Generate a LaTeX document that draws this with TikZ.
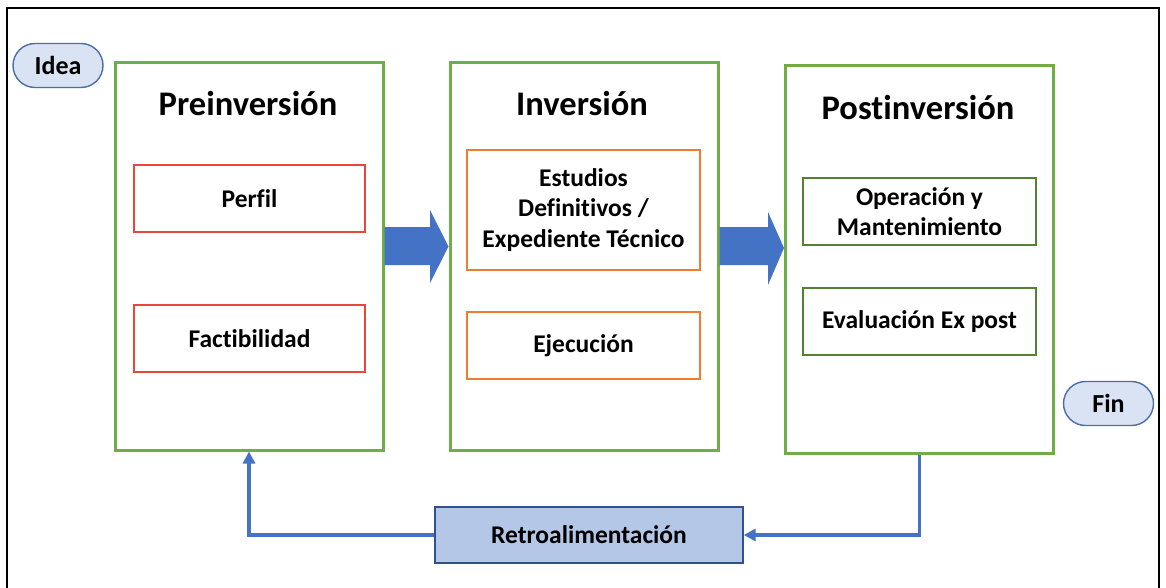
\documentclass[tikz,border=0pt]{standalone}
\usepackage{fontspec}
\setmainfont{Carlito}[Ligatures=NoCommon]
\usepackage{tikz}
\usetikzlibrary{positioning,arrows.meta}
\usepackage{xcolor}
\definecolor{stagegreen}{HTML}{70AD47}
\definecolor{boxred}{HTML}{E8473A}
\definecolor{boxorange}{HTML}{ED7D31}
\definecolor{boxgreen}{HTML}{548235}
\definecolor{flowblue}{HTML}{4472C4}
\definecolor{pillfill}{HTML}{DAE3F3}
\definecolor{pillline}{HTML}{4A6FA5}
\definecolor{retrofill}{HTML}{B4C7E7}
\definecolor{retroline}{HTML}{2F528F}
\tikzset{
	stage/.style={draw=stagegreen, line width=3pt, minimum width=268pt, minimum height=387pt},
	stagetitle/.style={font=\bfseries\fontsize{34.5}{41}\selectfont},
	task/.style={line width=2.8pt, minimum width=231pt, minimum height=67pt, align=center, font=\bfseries\fontsize{25.5}{30.5}\selectfont},
	pill/.style={draw=pillline, fill=pillfill, line width=1.4pt, rounded corners=22pt, minimum width=90pt, minimum height=44pt, font=\bfseries\fontsize{26}{30}\selectfont},
	feedback/.style={draw=flowblue, line width=3.5pt, -{Triangle[length=12pt,width=12pt]}}
}
\begin{document}
\begin{tikzpicture} [x=1pt, y=-1pt]
										\useasboundingbox (0, 0) rectangle (1166, 588);
										\draw [black] [line width=1.6pt] (7, 588)--(7, 8)--(1159, 8)--(1159, 588);
										\node [pill] (idea) at (58, 65.5) {Idea};
										\node [pill] (fin) at (1108.5, 403.5) {Fin};
										\node [stage] (pre) at (249, 256.5) {};
										\node [stage] (inv) at (584, 256.5) {};
										\node [stage] (post) at (919.5, 259.5) {};
										\node [stagetitle] (pretitle) at (248, 104) {Preinversión};
										\node [stagetitle] (invtitle) at (582, 104) {Inversión};
										\node [stagetitle] (posttitle) at (918, 108) {Postinversión};
										\node [task, draw=boxred] (perfil) at (249.5, 198.5) {Perfil};
										\node [task, draw=boxred] (factib) at (249.5, 338.5) {Factibilidad};
										\node [task, draw=boxorange, minimum width=233pt, minimum height=120pt] (estudios) at (583.5, 210) {Estudios\\Definitivos /\\Expediente Técnico};
										\node [task, draw=boxorange, minimum width=233pt] (ejec) at (583.5, 345.5) {Ejecución};
										\node [task, draw=boxgreen, minimum width=233pt] (operac) at (919.5, 211.5) {Operación y\\Mantenimiento};
										\node [task, draw=boxgreen, minimum width=233pt] (evalua) at (919.5, 321.5) {Evaluación Ex post};
										\node [task, draw=retroline, fill=retrofill, line width=1.4pt, minimum width=308pt, minimum height=56pt] (retro) at (589, 535) {Retroalimentación};
										\fill [flowblue] (pre.east |- 0, 227)--(430, 227)--(430, 210)--(inv.west |- 0, 246.5)--(430, 283)--(430, 265)--(pre.east |- 0, 265)--cycle;
										\fill [flowblue] (inv.east |- 0, 227)--(768, 227)--(768, 212)--(post.west |- 0, 248)--(768, 285)--(768, 265)--(inv.east |- 0, 265)--cycle;
										\draw [feedback] (post.south)--(post.south |- retro.east)--(retro.east);
										\draw [feedback] (retro.west)--(pre.south |- retro.west)--(pre.south);
									\end{tikzpicture}
\end{document}
